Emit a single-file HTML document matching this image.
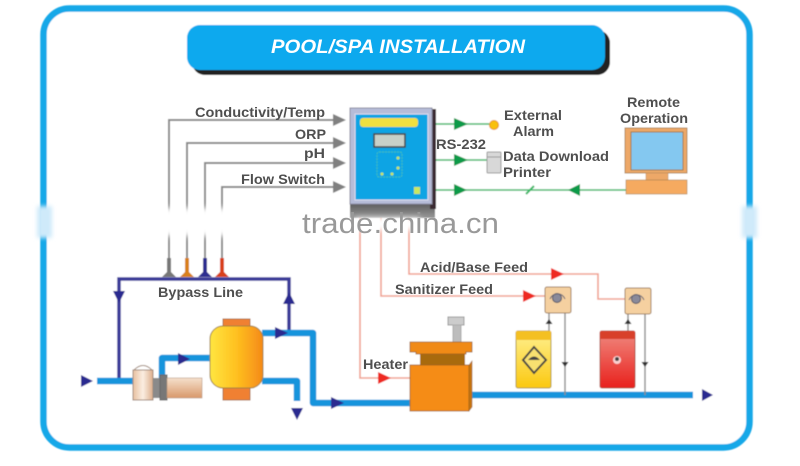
<!DOCTYPE html>
<html><head><meta charset="utf-8"><style>
html,body{margin:0;padding:0;background:#fff;width:800px;height:466px;overflow:hidden}
svg{display:block}
text{font-family:"Liberation Sans",sans-serif;fill:#505050;font-weight:bold;stroke:none}
</style></head><body>
<svg width="800" height="466" viewBox="0 0 800 466" xmlns="http://www.w3.org/2000/svg">
<defs>
<linearGradient id="fy" x1="0" x2="1" y1="0" y2="0"><stop offset="0" stop-color="#ffe640"/><stop offset=".5" stop-color="#ffc020"/><stop offset="1" stop-color="#f58a18"/></linearGradient>
<linearGradient id="tan" x1="0" x2="0" y1="0" y2="1"><stop offset="0" stop-color="#f5e0cc"/><stop offset="1" stop-color="#d8986a"/></linearGradient>
<linearGradient id="tan2" x1="0" x2="1" y1="0" y2="0"><stop offset="0" stop-color="#e8c0a0"/><stop offset=".5" stop-color="#fbeee2"/><stop offset="1" stop-color="#dcae8c"/></linearGradient>
<linearGradient id="yt" x1="0" x2="0" y1="0" y2="1"><stop offset="0" stop-color="#fff090"/><stop offset="1" stop-color="#fbc810"/></linearGradient>
<linearGradient id="rt" x1="0" x2="0" y1="0" y2="1"><stop offset="0" stop-color="#f08a80"/><stop offset="1" stop-color="#e8201c"/></linearGradient>
<linearGradient id="sh" x1="0" x2="0" y1="0" y2="1"><stop offset="0" stop-color="#555"/><stop offset="1" stop-color="#999"/></linearGradient>
<filter id="soft" x="-5%" y="-5%" width="110%" height="110%"><feGaussianBlur stdDeviation="0.55"/></filter>
<filter id="tx" x="-5%" y="-20%" width="110%" height="140%"><feGaussianBlur stdDeviation="0.35"/></filter>
<filter id="b4" x="-50%" y="-50%" width="200%" height="200%"><feGaussianBlur stdDeviation="3"/></filter>
<filter id="b2" x="-50%" y="-50%" width="200%" height="200%"><feGaussianBlur stdDeviation="2"/></filter>
</defs>
<g filter="url(#soft)">
<!-- frame -->
<rect x="43.5" y="8.500" width="706" height="439" rx="26" fill="#fff" stroke="#18a8e8" stroke-width="6.500"/>
<!-- title -->
<rect x="192" y="30" width="418" height="45" rx="13" fill="#222"/>
<rect x="187" y="25" width="418" height="45" rx="13" fill="#07a9ee"/>

<!-- gray sensor lines -->
<g fill="none" stroke="#8a8a8a" stroke-width="2">
<path d="M169 270V120H335"/><path d="M187 270V143H335"/><path d="M205 270V163H335"/><path d="M222 270V187H335"/>
</g>
<g fill="#808080">
<path d="M333 114L346 120L333 126Z"/><path d="M333 137L346 143L333 149Z"/><path d="M333 157L346 163L333 169Z"/><path d="M333 181L346 187L333 193Z"/>
</g>
<!-- sensor tips -->
<path d="M167 258h4v14l5 5h-14l5-5z" fill="#777"/>
<path d="M185 258h4v14l5 5h-14l5-5z" fill="#d8801c"/>
<path d="M203 258h4v14l5 5h-14l5-5z" fill="#2f2f90"/>
<path d="M220 258h4v14l5 5h-14l5-5z" fill="#d8401c"/>

<!-- pink lines -->
<g fill="none" stroke="#f0a090" stroke-width="1.600">
<path d="M360 210V378H410"/><path d="M381 210V296H546"/><path d="M409 210V274H598V299H626"/>
</g>
<g fill="#ee2a24">
<path d="M378 372L391 378L378 384Z"/><path d="M523 290L536 296L523 302Z"/><path d="M551 268L564 274L551 280Z"/>
</g>

<!-- bypass -->
<path d="M119 381V279H289V334" fill="none" stroke="#3a3a98" stroke-width="3.500"/>
<g fill="#2c2c90">
<path d="M113 291H125L119 303Z"/><path d="M283 304H295L289 292Z"/>
<path d="M81 375L93 381L81 387Z"/>
<path d="M291 408H303L297 420Z"/>
<path d="M702 389L713 395L702 401Z"/>
</g>
<!-- pipes -->
<g fill="none" stroke="#1294dc" stroke-width="6.500" stroke-linejoin="round">
<path d="M97 381H135"/>
<path d="M162 380V358H212"/>
<path d="M262 333H313V403H412"/>
<path d="M262 381H297V401"/>
<path d="M470 395H693"/>
</g>
<g fill="#2c2c90">
<path d="M178 353L190 359L178 365Z"/><path d="M275 327L288 333L275 339Z"/><path d="M331 397L344 403L331 409Z"/>
</g>

<!-- pump -->
<rect x="133" y="370" width="20" height="30" fill="url(#tan2)" stroke="#a08878"/>
<path d="M134 370q9-9 18 0z" fill="#fff" stroke="#a08878"/>
<rect x="153" y="378" width="8" height="20" fill="#8a8a8a"/>
<rect x="160" y="375" width="7" height="25" fill="#777" stroke="#666"/>
<rect x="167" y="378" width="35" height="20" fill="url(#tan)" stroke="#b89880" stroke-width=".6"/>
<!-- filter -->
<rect x="223" y="319" width="27" height="10" fill="#f08030" stroke="#b07040"/>
<rect x="223" y="386" width="27" height="14" fill="#f08030" stroke="#b07040"/>
<rect x="210" y="326" width="53" height="62" rx="13" fill="url(#fy)" stroke="#a08040"/>

<!-- heater -->
<rect x="448" y="317" width="16" height="8" fill="#ccc" stroke="#999"/>
<rect x="453" y="325" width="8" height="18" fill="#bdbdbd" stroke="#aaa"/>
<rect x="420" y="352" width="45" height="14" fill="#a86a10"/>
<path d="M410 342H472V352H466V354H416V352H410Z" fill="#f08a18" stroke="#9a6020" stroke-width=".8"/>
<rect x="410" y="365" width="59" height="46" fill="#f58c14" stroke="#9a6020" stroke-width=".8"/>
<path d="M469 365L472 361V407L469 411Z" fill="#c87410" stroke="#9a6020" stroke-width=".6"/>

<!-- chemical pumps -->
<g fill="none" stroke="#888" stroke-width="1.400">
<path d="M549 313V331"/><path d="M565 313V395"/><path d="M628 314V331"/><path d="M645 314V395"/>
</g>
<g fill="#333">
<path d="M549 319l-3.500 5h7z"/><path d="M628 319l-3.500 5h7z"/>
<path d="M565 367l-3.500-5h7z"/><path d="M645 367l-3.500-5h7z"/>
</g>
<g stroke="#a08060" fill="#f5d0a0">
<rect x="545" y="287" width="26" height="26" rx="2"/><rect x="625" y="288" width="26" height="26" rx="2"/>
</g>
<g fill="#8a8a9a" stroke="#556">
<circle cx="557" cy="298" r="4.500"/><circle cx="636" cy="299" r="4.500"/>
</g>
<g fill="none" stroke="#667" stroke-width="1">
<path d="M550 299a8 8 0 0 1 15 0"/><path d="M629 300a8 8 0 0 1 15 0"/>
</g>
<!-- tanks -->
<rect x="516" y="331" width="35" height="57" rx="2" fill="url(#yt)" stroke="#b09a40"/>
<rect x="516" y="331" width="35" height="9" fill="#f4c020"/>
<path d="M534 347L546 360L534 373L523 360Z" fill="#f8e070" stroke="#444" stroke-width="2"/>
<path d="M528 360q6-7 12 0z" fill="#444"/>
<rect x="600" y="331" width="35" height="57" rx="2" fill="url(#rt)" stroke="#b05040"/>
<rect x="600" y="331" width="35" height="8" fill="#d8402c"/>
<circle cx="617" cy="360" r="4" fill="#fbd0d0"/><circle cx="617" cy="359" r="2" fill="#444"/>

<!-- green lines -->
<g stroke="#3cb868" stroke-width="1.500" fill="none">
<path d="M434 124H490"/><path d="M434 160H487"/><path d="M434 190H626"/>
<path d="M526 194L534 186" stroke-width="2"/>
</g>
<g fill="#0f9a48">
<path d="M454 118L468 124L454 130Z"/><path d="M454 154L468 160L454 166Z"/><path d="M454 184L467 190L454 196Z"/><path d="M580 184L568 190L580 196Z"/>
</g>
<circle cx="494" cy="125" r="4.500" fill="#f8c010" stroke="#e89020"/>
<rect x="487" y="152" width="14" height="21" rx="1" fill="#d8d8d8" stroke="#999"/>
<path d="M487 157H501" stroke="#999"/>
<!-- monitor -->
<rect x="625" y="128" width="62" height="45" fill="#eda868" stroke="#a07848" stroke-width=".8"/>
<rect x="631" y="132" width="52" height="38" fill="#84c8f0" stroke="#a07848"/>
<rect x="646" y="173" width="22" height="7" fill="#eda868" stroke="#c09060" stroke-width=".6"/>
<rect x="626" y="180" width="61" height="14" fill="#f5aa60" stroke="#a88050" stroke-width=".6"/>

<!-- device -->
<rect x="350" y="202" width="85" height="16" fill="url(#sh)"/>
<rect x="430" y="109" width="6" height="100" fill="#3a2c30"/>
<rect x="350" y="108" width="82" height="96" fill="#b6bcd8" stroke="#8a8aa0"/>
<rect x="355" y="114" width="73" height="86" fill="#10a4e4" stroke="#dde" stroke-width="1"/>
<rect x="360" y="118" width="58" height="9" rx="3" fill="#f0e040"/>
<rect x="374" y="134" width="31" height="13" fill="#c8d0c8" stroke="#444" stroke-width="1.500"/>
<rect x="377" y="152" width="25" height="25" rx="2" fill="none" stroke="#50c8a0" stroke-width=".7" stroke-dasharray="2 1"/>
<g fill="#c8e860">
<circle cx="398" cy="158" r="1.500"/><circle cx="398" cy="168" r="1.500"/><circle cx="382" cy="174" r="1.500"/><circle cx="392" cy="174" r="1.500"/>
<rect x="414" y="187" width="6" height="7"/>
</g>
</g>

<!-- fade bands -->
<g fill="#fff" filter="url(#b4)">
<rect x="160" y="208" width="72" height="28"/>
<rect x="355" y="218" width="65" height="12"/>
</g>
<rect x="37" y="206" width="15" height="32" fill="#cfeafa" filter="url(#b2)"/>
<rect x="742" y="206" width="15" height="32" fill="#cfeafa" filter="url(#b2)"/>

<!-- labels -->
<g filter="url(#tx)">
<text x="271" y="53" font-size="19" font-style="italic" textLength="254" lengthAdjust="spacingAndGlyphs" style="fill:#fff">POOL/SPA INSTALLATION</text>
<g font-size="14" lengthAdjust="spacingAndGlyphs">
<text x="195" y="117" textLength="130" lengthAdjust="spacingAndGlyphs">Conductivity/Temp</text>
<text x="295" y="139" textLength="31" lengthAdjust="spacingAndGlyphs">ORP</text>
<text x="304" y="158" textLength="21" lengthAdjust="spacingAndGlyphs">pH</text>
<text x="241" y="184" textLength="84" lengthAdjust="spacingAndGlyphs">Flow Switch</text>
<text x="158" y="297" textLength="85" lengthAdjust="spacingAndGlyphs">Bypass Line</text>
<text x="436" y="149" textLength="50" lengthAdjust="spacingAndGlyphs">RS-232</text>
<text x="504" y="120" textLength="58" lengthAdjust="spacingAndGlyphs">External</text>
<text x="513" y="136" textLength="41" lengthAdjust="spacingAndGlyphs">Alarm</text>
<text x="503" y="161" textLength="106" lengthAdjust="spacingAndGlyphs">Data Download</text>
<text x="503" y="177" textLength="48" lengthAdjust="spacingAndGlyphs">Printer</text>
<text x="627" y="107" textLength="53" lengthAdjust="spacingAndGlyphs">Remote</text>
<text x="620" y="123" textLength="68" lengthAdjust="spacingAndGlyphs">Operation</text>
<text x="420" y="272" textLength="108" lengthAdjust="spacingAndGlyphs">Acid/Base Feed</text>
<text x="395" y="294" textLength="98" lengthAdjust="spacingAndGlyphs">Sanitizer Feed</text>
<text x="363" y="369" textLength="45" lengthAdjust="spacingAndGlyphs">Heater</text>
</g>
<text x="302" y="233" font-size="29" textLength="197" lengthAdjust="spacingAndGlyphs" style="fill:#999;font-weight:normal">trade.china.cn</text>
</g>
</svg>
</body></html>
